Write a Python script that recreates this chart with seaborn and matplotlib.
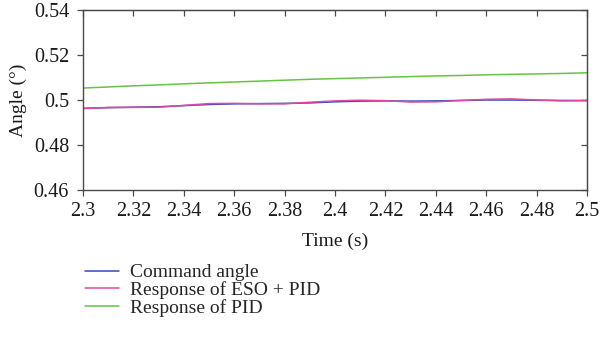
import matplotlib
matplotlib.use("Agg")
import matplotlib.pyplot as plt
import seaborn as sns
import pandas as pd

time = [2.30, 2.31, 2.32, 2.33, 2.34, 2.35, 2.36, 2.37, 2.38, 2.39, 2.40,
        2.41, 2.42, 2.43, 2.44, 2.45, 2.46, 2.47, 2.48, 2.49, 2.50]
command = [0.4963, 0.4966, 0.4968, 0.4970, 0.4975, 0.4980, 0.4983, 0.4984, 0.4985, 0.4987, 0.4992,
           0.4995, 0.4996, 0.4995, 0.4996, 0.4998, 0.5000, 0.5000, 0.4999, 0.4998, 0.4998]
eso_pid = [0.4962, 0.4967, 0.4967, 0.4968, 0.4976, 0.4984, 0.4985, 0.4983, 0.4983, 0.4990, 0.4996,
           0.4999, 0.4997, 0.4991, 0.4992, 0.4998, 0.5003, 0.5005, 0.5000, 0.4996, 0.4997]
pid = [0.5053, 0.5058, 0.5063, 0.5067, 0.5072, 0.5076, 0.5080, 0.5084, 0.5088, 0.5092, 0.5095,
       0.5098, 0.5101, 0.5104, 0.5107, 0.5109, 0.5112, 0.5114, 0.5116, 0.5118, 0.5121]
series_names = ["Command angle", "Response of ESO + PID", "Response of PID"]
x_ticks = [2.3, 2.32, 2.34, 2.36, 2.38, 2.4, 2.42, 2.44, 2.46, 2.48, 2.5]
x_tick_labels = ["2.3", "2.32", "2.34", "2.36", "2.38", "2.4", "2.42", "2.44", "2.46", "2.48", "2.5"]
y_ticks = [0.46, 0.48, 0.5, 0.52, 0.54]
y_tick_labels = ["0.46", "0.48", "0.5", "0.52", "0.54"]

df = pd.concat([
    pd.DataFrame({"Time": time, "Angle": vals, "Series": name})
    for name, vals in zip(series_names, [command, eso_pid, pid])
])

sns.set_style("ticks")
plt.rcParams["font.family"] = ["Liberation Serif", "DejaVu Serif"]
plt.rcParams["axes.edgecolor"] = "#4a4a4a"
plt.rcParams["xtick.color"] = "#4a4a4a"
plt.rcParams["ytick.color"] = "#4a4a4a"
plt.rcParams["xtick.labelcolor"] = "#1a1a1a"
plt.rcParams["ytick.labelcolor"] = "#1a1a1a"

fs = 14

fig = plt.figure(figsize=(6, 3.38), dpi=100)
ax = fig.add_axes([83/600, 1 - 190/338, (587-83)/600, 180/338])

palette = {"Command angle": "#3348c0", "Response of ESO + PID": "#e0489e", "Response of PID": "#66c443"}
sns.lineplot(data=df, x="Time", y="Angle", hue="Series", palette=palette, linewidth=1.1, ax=ax, legend=False)

ax.set_xlim(2.3, 2.5)
ax.set_ylim(0.46, 0.54)
ax.set_xticks(x_ticks)
ax.set_xticklabels(x_tick_labels, fontsize=fs + 0.5)
ax.set_yticks(y_ticks)
ax.set_yticklabels(y_tick_labels, fontsize=fs + 0.5)
ax.tick_params(axis="both", direction="out", length=4, width=0.9)
ax.tick_params(axis="y", pad=6)
ax.tick_params(axis="x", pad=5)
for s in ax.spines.values():
    s.set_linewidth(1.0)
axt = ax.secondary_xaxis("top")
axt.set_xticks(x_ticks)
axt.tick_params(direction="in", length=4, width=0.9, labeltop=False)
axr = ax.secondary_yaxis("right")
axr.set_yticks(y_ticks)
axr.tick_params(direction="in", length=4, width=0.9, labelright=False)

ax.set_xlabel("Time (s)", fontsize=fs, color="#1a1a1a", labelpad=8)
ax.set_ylabel("Angle (°)", fontsize=fs, color="#1a1a1a", labelpad=5)

handles = [plt.Line2D([], [], color=palette[n], linewidth=1.1) for n in series_names]
fig.legend(handles, series_names, loc="upper left", bbox_to_anchor=(77/600, 1 - 256/338),
           frameon=False, fontsize=fs, handlelength=1.75, handletextpad=0.6, labelspacing=0.0,
           borderaxespad=0)

fig.savefig("out.png", dpi=100)
